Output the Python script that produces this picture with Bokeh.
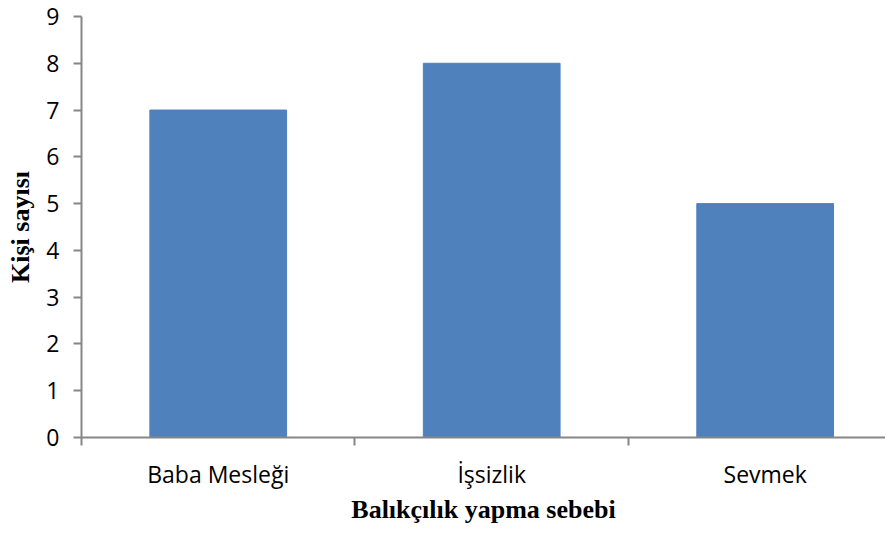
from bokeh.plotting import figure
from bokeh.models import Range1d, FixedTicker, ColumnDataSource
from bokeh.embed import file_html
from bokeh.resources import INLINE

categories = ["Baba Mesleği", "İşsizlik", "Sevmek"]
counts = [7, 8, 5]
y_ticks = [0, 1, 2, 3, 4, 5, 6, 7, 8, 9]

xc = [i + 0.5 for i in range(len(categories))]
src = ColumnDataSource(dict(x=xc, top=counts))

p = figure(width=885, height=526, output_backend="svg", toolbar_location=None,
           x_range=Range1d(0, 2.94), y_range=Range1d(0, 9),
           min_border_left=81, min_border_right=0, min_border_top=16, min_border_bottom=86)
p.outline_line_color = None
p.xgrid.grid_line_color = None
p.ygrid.grid_line_color = None
p.background_fill_color = "white"

p.vbar(x="x", top="top", width=0.5, bottom=0, source=src,
       fill_color="#4F81BD", line_color="#4F81BD")

axis_col = "#868686"
xa = p.xaxis[0]
xa.ticker = FixedTicker(ticks=xc, minor_ticks=list(range(len(categories) + 1)))
xa.major_label_overrides = {v: c for v, c in zip(xc, categories)}
xa.major_tick_line_color = None
xa.major_tick_out = 0
xa.major_tick_in = 0
xa.minor_tick_line_color = axis_col
xa.minor_tick_line_width = 2
xa.minor_tick_out = 8
xa.minor_tick_in = 0
xa.axis_line_color = axis_col
xa.axis_line_width = 2
xa.major_label_text_font = "Open Sans"
xa.major_label_text_font_size = "23px"
xa.major_label_text_color = "black"
xa.major_label_standoff = 12
xa.axis_label = "Balıkçılık yapma sebebi"
xa.axis_label_text_font = "Liberation Serif"
xa.axis_label_text_font_style = "bold"
xa.axis_label_text_font_size = "26px"
xa.axis_label_text_color = "black"
xa.axis_label_standoff = 2

ya = p.yaxis[0]
ya.ticker = FixedTicker(ticks=y_ticks)
ya.minor_tick_line_color = None
ya.major_tick_line_color = axis_col
ya.major_tick_line_width = 2
ya.major_tick_out = 8
ya.major_tick_in = 0
ya.axis_line_color = axis_col
ya.axis_line_width = 2
ya.major_label_text_font = "Open Sans"
ya.major_label_text_font_size = "23px"
ya.major_label_text_color = "black"
ya.major_label_standoff = 14
ya.axis_label = "Kişi sayısı"
ya.axis_label_text_font = "Liberation Serif"
ya.axis_label_text_font_style = "bold"
ya.axis_label_text_font_size = "26px"
ya.axis_label_text_color = "black"
ya.axis_label_standoff = 8

open("out.html", "w").write(file_html(p, INLINE))
